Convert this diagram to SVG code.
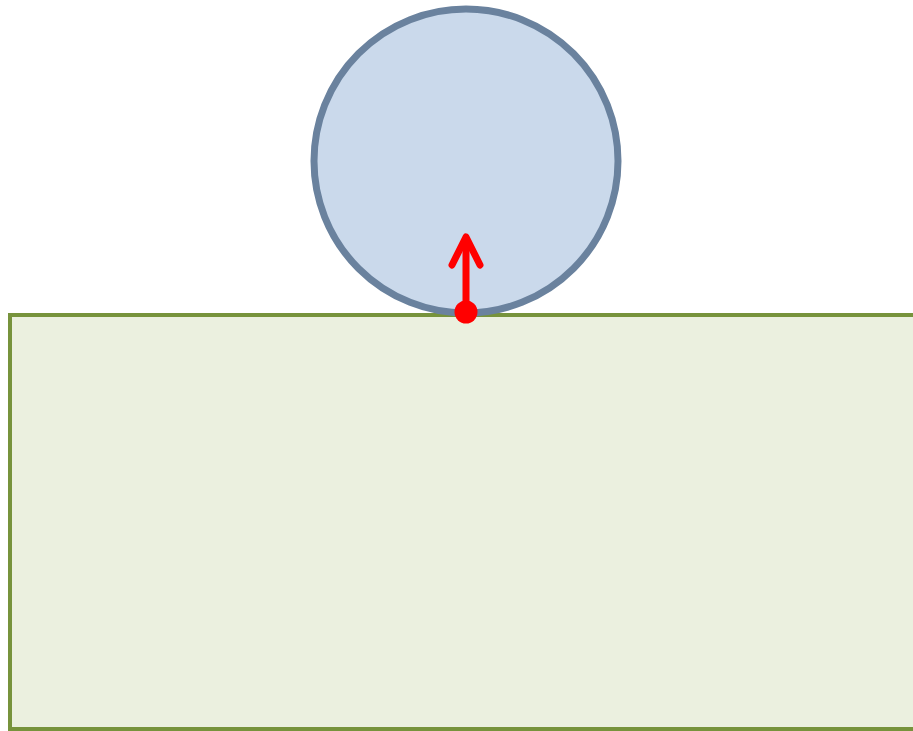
<svg xmlns="http://www.w3.org/2000/svg" width="913" height="731" viewBox="0 0 913 731">
<style>
.ground{fill:#ebf0df;stroke:#77933c;stroke-width:4}
.ball{fill:#cad9eb;stroke:#6a829e;stroke-width:7}
.force{fill:none;stroke:#ff0000;stroke-width:7;stroke-linecap:round;stroke-linejoin:round}
</style>
<rect width="913" height="731" fill="#ffffff"/>
<g id="ground"><rect class="ground" x="10" y="315" width="910" height="414"/></g>
<g id="ball"><circle class="ball" cx="466" cy="161" r="152"/></g>
<g id="connectors">
<line class="force" x1="466" y1="312" x2="466" y2="240"/>
<polyline class="force" points="452,265 466,237 480,265"/>
<circle cx="466" cy="312" r="11.5" fill="#ff0000"/>
</g>
</svg>
